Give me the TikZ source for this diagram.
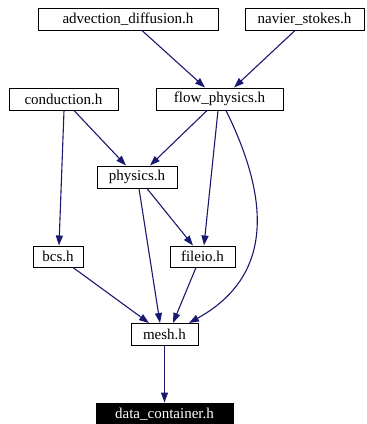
\documentclass[tikz,border=0pt]{standalone}
\usepackage{fontspec}
\setmainfont{Liberation Serif}
\usetikzlibrary{arrows.meta}
\definecolor{edgeblue}{HTML}{191970}
\tikzset{
  filebox/.style={draw=black, line width=1pt, inner sep=0pt, minimum height=22pt,
    font=\fontsize{15}{18}\selectfont, anchor=center},
  rootbox/.style={filebox, fill=black, text=white},
  dep/.style={draw=edgeblue, line width=1.1pt, -{Triangle[length=10pt,width=7pt]}, fill=none},
}
\begin{document}
\begin{tikzpicture}[x=1pt,y=-1pt]
\useasboundingbox (0,0) rectangle (367,424);
\node[filebox, minimum width=180pt] (adv) at (128,19) {advection\_diffusion.h};
\node[filebox, minimum width=119pt] (nav) at (304.5,19) {navier\_stokes.h};
\node[filebox, minimum width=109pt] (cond) at (63.5,99) {conduction.h};
\node[filebox, minimum width=127pt] (flow) at (219.5,99) {flow\_physics.h};
\node[filebox, minimum width=80pt] (phys) at (137,177) {physics.h};
\node[filebox, minimum width=50pt, minimum height=21pt] (bcs) at (58,256.5) {bcs.h};
\node[filebox, minimum width=65pt, minimum height=21pt] (fileio) at (202.5,256.5) {fileio.h};
\node[filebox, minimum width=67pt] (mesh) at (164.5,334.5) {mesh.h};
\node[rootbox, minimum width=137pt, minimum height=22pt] (data) at (164.5,414) {data\_container.h};

\draw[dep] (adv.south -| 142,0) -- (flow.north -| 205,0);
\draw[dep] (nav.south -| 295,0) -- (flow.north -| 234,0);
\draw[dep] (cond.south -| 64,0) -- (bcs.north -| 59,0);
\draw[dep] (cond.south -| 74,0) -- (phys.north -| 126,0);
\draw[dep] (flow.south -| 207,0) -- (phys.north -| 150,0);
\draw[dep] (flow.south -| 218,0) -- (fileio.north -| 204,0);
\draw[dep] (flow.south -| 226,0) .. controls (285,230) and (252,288) .. (mesh.north -| 189,0);
\draw[dep] (phys.south -| 139,0) -- (mesh.north -| 160,0);
\draw[dep] (phys.south -| 147,0) -- (fileio.north -| 193,0);
\draw[dep] (bcs.south -| 73,0) -- (mesh.north -| 149,0);
\draw[dep] (fileio.south -| 196,0) -- (mesh.north -| 173,0);
\draw[dep] (mesh) -- (data);
\end{tikzpicture}
\end{document}
